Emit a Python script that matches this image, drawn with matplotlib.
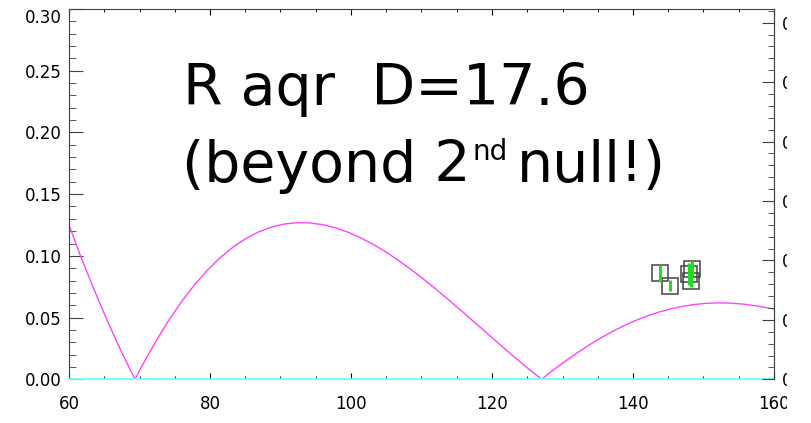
import matplotlib
matplotlib.use("Agg")
import matplotlib.pyplot as plt
from matplotlib.patches import Rectangle
from matplotlib.ticker import MultipleLocator, FormatStrFormatter
from matplotlib.transforms import IdentityTransform

# uniform disk model visibility vs baseline
model_baseline = [60.0, 61.55, 63.36, 65.17, 66.98, 68.79, 69.36, 70.60, 72.41,
                  74.22, 76.03, 77.84, 79.65, 81.46, 83.27, 85.08, 86.89, 88.70,
                  90.52, 92.33, 94.14, 95.95, 97.76, 99.57, 101.38, 103.19,
                  105.00, 106.81, 108.62, 110.43, 112.24, 114.05, 115.86,
                  117.67, 119.48, 121.29, 123.10, 124.91, 127.05, 128.53,
                  130.34, 132.15, 133.96, 135.77, 137.58, 139.39, 141.20,
                  143.01, 144.82, 146.63, 148.44, 150.25, 152.07, 153.88,
                  155.69, 157.50, 159.31, 160.0]
model_vis = [0.1250, 0.1012, 0.0754, 0.0509, 0.0279, 0.0065, 0.0, 0.0134, 0.0317,
             0.0484, 0.0634, 0.0768, 0.0885, 0.0986, 0.1071, 0.1140, 0.1194, 0.1233,
             0.1258, 0.1269, 0.1267, 0.1253, 0.1228, 0.1192, 0.1146, 0.1092,
             0.1030, 0.0960, 0.0885, 0.0805, 0.0721, 0.0634, 0.0545,
             0.0454, 0.0364, 0.0273, 0.0184, 0.0097, 0.0, 0.0068,
             0.0145, 0.0217, 0.0284, 0.0346, 0.0402, 0.0452, 0.0496,
             0.0533, 0.0563, 0.0587, 0.0604, 0.0615, 0.0619, 0.0617,
             0.0609, 0.0595, 0.0576, 0.0570]

# measured visibilities
obs_baseline = [143.8, 145.3, 148.4, 148.0, 148.25]
obs_vis = [0.0859, 0.0758, 0.0897, 0.0853, 0.0796]
obs_err = [0.0071, 0.0043, 0.0060, 0.0092, 0.0050]

x_ticks = [60, 80, 100, 120, 140, 160]
y_ticks = [0.00, 0.05, 0.10, 0.15, 0.20, 0.25, 0.30]

W, H = 812, 423
fig = plt.figure(figsize=(W / 100, H / 100), dpi=100)
ax = fig.add_axes([69 / W, 43.7 / H, 705 / W, 370.3 / H])

ax.plot(model_baseline, model_vis, color="#ff44ff", lw=1.0, zorder=2)
ax.axhline(0, color="#70ffff", lw=1.3, clip_on=False, zorder=3)
ax.plot(obs_baseline, obs_vis, "s", ms=11, mfc="none", mec="#444444", mew=1.1,
        ls="none", zorder=4)
ax.errorbar(obs_baseline, obs_vis, yerr=obs_err, fmt="none", ecolor="#22dd22",
            elinewidth=2.2, capsize=0, zorder=5)

ax.set_xlim(60, 160)
ax.set_ylim(0, 0.30)
ax.set_xticks(x_ticks)
ax.set_yticks(y_ticks)
ax.xaxis.set_minor_locator(MultipleLocator(5))
ax.yaxis.set_minor_locator(MultipleLocator(0.01))
ax.yaxis.set_major_formatter(FormatStrFormatter("%.2f"))

for side in ["left", "top", "right"]:
    ax.spines[side].set_color("#404040")
ax.spines["bottom"].set_visible(False)

ax.tick_params(axis="x", which="both", direction="in", top=True, labelsize=12,
               pad=11.5, color="black")
ax.tick_params(axis="x", which="major", length=4.3)
ax.tick_params(axis="x", which="minor", length=2.2)
ax.tick_params(axis="y", which="both", direction="in", labelsize=12, pad=5.3,
               color="#404040")
ax.tick_params(axis="y", which="major", length=10)
ax.tick_params(axis="y", which="minor", length=5)
ax.yaxis.get_major_ticks()[-1].label1.set_verticalalignment("top")

# right-hand axis with its own scale
axr = ax.twinx()
axr.set_ylim(0, 0.3115)
axr.set_yticks(y_ticks)
axr.yaxis.set_minor_locator(MultipleLocator(0.01))
axr.yaxis.set_major_formatter(FormatStrFormatter("%.2f"))
for side in ["left", "top", "bottom"]:
    axr.spines[side].set_visible(False)
axr.spines["right"].set_color("#404040")
axr.tick_params(axis="y", which="both", direction="in", labelsize=12, pad=5.8,
                color="#404040")
axr.tick_params(axis="y", which="major", length=8.6)
axr.tick_params(axis="y", which="minor", length=4.3)

# title text
fig.text(183 / W, 1 - 105 / H, "R aqr  D=17.6", fontsize=41, va="baseline")
base_y = H - 182
renderer = fig.canvas.get_renderer()
t1 = fig.text(182, base_y, "(beyond 2", fontsize=41, va="baseline",
              transform=IdentityTransform())
x1 = t1.get_window_extent(renderer).x1
t2 = fig.text(x1 + 2, base_y + 22, "nd", fontsize=20, va="baseline",
              transform=IdentityTransform())
x2 = t2.get_window_extent(renderer).x1
fig.text(x2 + 9, base_y, "null!)", fontsize=41, va="baseline",
         transform=IdentityTransform())

# right edge of the image is blank
fig.patches.append(Rectangle((787 / W, 0), 1, 1, transform=fig.transFigure,
                             facecolor="white", edgecolor="none", zorder=10))

fig.savefig("out.png", dpi=100)
